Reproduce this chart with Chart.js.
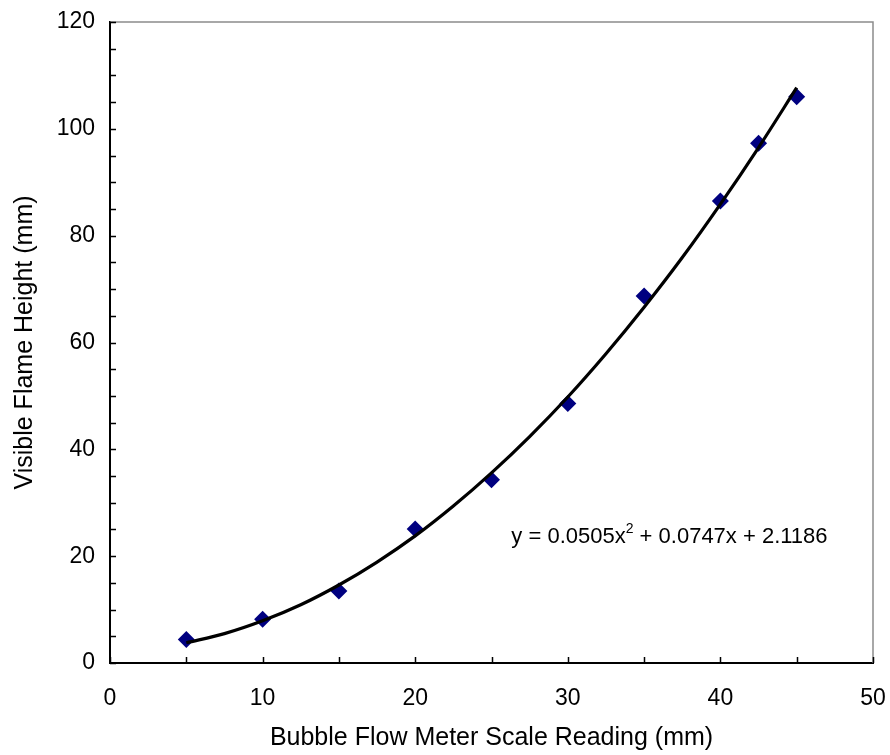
<!DOCTYPE html>
<html>
<head>
<meta charset="utf-8">
<script src="https://cdn.jsdelivr.net/npm/chart.js@4/dist/chart.umd.min.js"></script>
<style>
  html, body { margin: 0; padding: 0; background: #fff; }
  #wrap { width: 890px; height: 755px; }
</style>
</head>
<body>
<div id="wrap"><canvas id="chart" width="890" height="755"></canvas></div>
<script>
// measured points
const flowReading = [5, 10, 15, 20, 25, 30, 35, 40, 42.5, 45];
const flameHeight = [4.4, 8.2, 13.5, 25.1, 34.3, 48.6, 68.7, 86.5, 97.3, 106.0];

// trendline
const trendX = [5, 7.5, 10, 12.5, 15, 17.5, 20, 22.5, 25, 27.5, 30, 32.5, 35, 37.5, 40, 42.5, 45];
const trendY = [3.8, 5.5, 7.9, 10.9, 14.6, 18.9, 23.8, 29.4, 35.6, 42.4, 49.8, 57.9, 66.6, 75.9, 85.9, 96.5, 107.7];

const xTicks = [0, 10, 20, 30, 40, 50];
const yTicks = [0, 20, 40, 60, 80, 100, 120];
const equationText = ['y = 0.0505x', '2', ' + 0.0747x + 2.1186'];

const FONT = 'Arial, "Liberation Sans", sans-serif';

// inward tick marks + grey top/right frame
const frame = {
  id: 'frame',
  beforeDatasetsDraw(chart) {
    const { ctx, chartArea: a, scales: { x, y } } = chart;
    ctx.save();
    ctx.strokeStyle = '#8c8c8c';
    ctx.lineWidth = 1.5;
    ctx.beginPath();
    ctx.moveTo(a.left, a.top);
    ctx.lineTo(a.right, a.top);
    ctx.lineTo(a.right, a.bottom);
    ctx.stroke();

    ctx.strokeStyle = '#000';
    ctx.lineWidth = 1.5;
    ctx.beginPath();
    y.ticks.forEach(t => {
      const py = Math.round(y.getPixelForValue(t.value)) + 0.5;
      ctx.moveTo(a.left, py);
      ctx.lineTo(a.left + 6, py);
    });
    x.ticks.forEach(t => {
      const px = Math.round(x.getPixelForValue(t.value)) + 0.5;
      ctx.moveTo(px, a.bottom);
      ctx.lineTo(px, a.bottom - 6);
    });
    ctx.stroke();
    ctx.restore();
  },
  afterDraw(chart) {
    const { ctx, scales: { x, y } } = chart;
    const px = x.getPixelForValue(26.3);
    const py = y.getPixelForValue(23.6);
    ctx.save();
    ctx.fillStyle = '#000';
    ctx.textBaseline = 'middle';
    ctx.font = '22px ' + FONT;
    ctx.fillText(equationText[0], px, py);
    let w = ctx.measureText(equationText[0]).width;
    ctx.font = '14px ' + FONT;
    ctx.fillText(equationText[1], px + w, py - 8);
    w += ctx.measureText(equationText[1]).width;
    ctx.font = '22px ' + FONT;
    ctx.fillText(equationText[2], px + w, py);
    ctx.restore();
  }
};

new Chart(document.getElementById('chart'), {
  type: 'scatter',
  data: {
    datasets: [
      {
        label: 'Measured',
        data: flowReading.map((v, i) => ({ x: v, y: flameHeight[i] })),
        pointStyle: 'rectRot',
        pointRadius: 8.5,
        pointBackgroundColor: '#000080',
        pointBorderColor: '#000080',
        pointBorderWidth: 0,
        showLine: false,
        order: 2
      },
      {
        label: 'Poly. fit',
        data: trendX.map((v, i) => ({ x: v, y: trendY[i] })),
        showLine: true,
        borderColor: '#000',
        borderWidth: 3.2,
        pointRadius: 0,
        tension: 0.4,
        cubicInterpolationMode: 'monotone',
        order: 1
      }
    ]
  },
  options: {
    responsive: false,
    animation: false,
    layout: { padding: { top: 22, right: 17, left: 0, bottom: 0 } },
    plugins: { legend: { display: false }, tooltip: { enabled: false } },
    scales: {
      x: {
        type: 'linear',
        min: 0, max: 50,
        afterFit(s) { s.height = 92; s.paddingLeft = 0; s.paddingRight = 0; },
        grid: { display: true, drawOnChartArea: false, drawTicks: false },
        border: { display: true, color: '#000', width: 2 },
        ticks: {
          stepSize: 5, autoSkip: false, maxRotation: 0, padding: 22,
          color: '#000', font: { family: FONT, size: 23 },
          callback: v => xTicks.includes(v) ? String(v) : ''
        },
        title: {
          display: true, text: 'Bubble Flow Meter Scale Reading (mm)',
          color: '#000', font: { family: FONT, size: 25 }, padding: { top: 0, bottom: 2 }
        }
      },
      y: {
        type: 'linear',
        min: 0, max: 120,
        afterFit(s) { s.width = 110; s.paddingTop = 0; s.paddingBottom = 0; },
        grid: { display: true, drawOnChartArea: false, drawTicks: false },
        border: { display: true, color: '#000', width: 2 },
        ticks: {
          stepSize: 5, autoSkip: false, padding: 15,
          color: '#000', font: { family: FONT, size: 23 },
          callback: v => yTicks.includes(v) ? String(v) : ''
        },
        title: {
          display: true, text: 'Visible Flame Height (mm)',
          color: '#000', font: { family: FONT, size: 25 }, padding: { top: 10, bottom: 0 }
        }
      }
    }
  },
  plugins: [frame]
});
</script>
</body>
</html>
